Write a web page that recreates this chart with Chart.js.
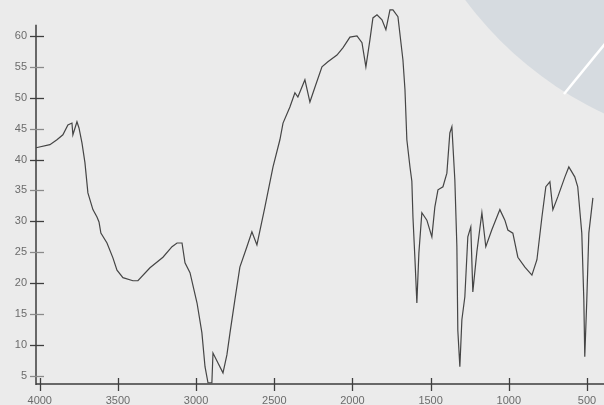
<!DOCTYPE html>
<html>
<head>
<meta charset="utf-8">
<script src="https://cdn.jsdelivr.net/npm/chart.js@4/dist/chart.umd.min.js"></script>
<style>
  html, body { margin: 0; padding: 0; background: #ebebeb; }
  #wrap { width: 604px; height: 405px; }
</style>
</head>
<body>
<div id="wrap"><canvas id="spectrum" width="604" height="405"></canvas></div>
<script>
// IR transmission spectrum: wavenumber (cm-1) vs transmittance (%)
const wavenumbers = [
  4024, 3935, 3890, 3852, 3820, 3794, 3788, 3762, 3749, 3730,
  3711, 3692, 3660, 3634, 3621, 3609, 3570, 3532, 3506, 3468,
  3404, 3372, 3295, 3212, 3154, 3122, 3090, 3071, 3039, 2994,
  2963, 2943, 2924, 2899, 2892, 2860, 2828, 2803, 2783, 2752,
  2720, 2675, 2643, 2611, 2560, 2508, 2464, 2444, 2400, 2368,
  2349, 2304, 2272, 2240, 2195, 2157, 2099, 2060, 2016, 1971,
  1939, 1914, 1888, 1869, 1843, 1811, 1786, 1760, 1741, 1709,
  1677, 1664, 1652, 1632, 1620, 1613, 1600, 1588, 1575, 1556,
  1524, 1492, 1473, 1453, 1421, 1396, 1377, 1364, 1345, 1332,
  1326, 1313, 1300, 1281, 1262, 1243, 1230, 1204, 1172, 1147,
  1109, 1057, 1025, 1006, 974, 942, 897, 852, 820, 788,
  763, 737, 718, 686, 641, 616, 578, 559, 533, 520,
  514, 501, 488, 462
];
const transmittance = [
  41.9, 42.4, 43.2, 44.0, 45.6, 45.9, 44.0, 46.1, 45.1, 42.7,
  39.5, 34.6, 31.9, 30.7, 29.9, 28.1, 26.5, 24.1, 22.1, 20.9,
  20.4, 20.4, 22.5, 24.2, 25.9, 26.5, 26.5, 23.3, 21.7, 16.8,
  12.0, 6.5, 3.9, 3.9, 8.7, 7.1, 5.5, 8.4, 12.0, 17.3,
  22.6, 25.9, 28.3, 26.2, 32.3, 38.8, 43.2, 45.9, 48.5, 50.8,
  50.1, 52.9, 49.3, 51.7, 55.0, 55.8, 56.9, 58.1, 59.8, 60.0,
  58.9, 55.0, 59.4, 62.9, 63.4, 62.6, 61.0, 64.2, 64.2, 63.1,
  56.1, 51.3, 43.2, 38.8, 36.5, 30.7, 23.8, 16.8, 24.9, 31.4,
  30.2, 27.5, 32.3, 35.1, 35.6, 37.8, 44.3, 45.3, 36.7, 25.9,
  12.4, 6.5, 14.1, 17.8, 27.5, 29.1, 18.6, 25.1, 31.4, 25.9,
  28.6, 31.9, 30.2, 28.6, 28.1, 24.2, 22.6, 21.3, 23.8, 30.7,
  35.6, 36.4, 31.9, 34.0, 37.2, 38.8, 37.2, 35.6, 28.1, 17.3,
  8.1, 17.3, 28.1, 33.8
];
const xTickValues = [500, 1000, 1500, 2000, 2500, 3000, 3500, 4000];
const yTickValues = [5, 10, 15, 20, 25, 30, 35, 40, 45, 50, 55, 60];

const points = wavenumbers.map((w, i) => ({ x: w, y: transmittance[i] }));

const INK = '#3e3e3e';
const LABEL = '#6b6b6b';

// slide backdrop: plain grey with a pale disc and a white stroke in the corner
const backdrop = {
  id: 'backdrop',
  beforeDraw(chart) {
    const { ctx, width, height } = chart;
    ctx.save();
    ctx.fillStyle = '#ebebeb';
    ctx.fillRect(0, 0, width, height);
    ctx.beginPath();
    ctx.arc(762, -221, 370, 0, Math.PI * 2);
    ctx.fillStyle = '#d6dbe0';
    ctx.fill();
    ctx.beginPath();
    ctx.moveTo(564, 94);
    ctx.lineTo(608, 40);
    ctx.strokeStyle = '#ffffff';
    ctx.lineWidth = 2.5;
    ctx.stroke();
    ctx.restore();
  }
};

// axis lines with tick marks crossing them
const crossAxes = {
  id: 'crossAxes',
  beforeDatasetsDraw(chart) {
    const { ctx } = chart;
    const xs = chart.scales.x, ys = chart.scales.y;
    const x0 = xs.left, y0 = ys.bottom;
    ctx.save();
    ctx.strokeStyle = INK;
    ctx.lineWidth = 1.5;
    ctx.beginPath();
    ctx.moveTo(x0, ys.getPixelForValue(61.8));
    ctx.lineTo(x0, y0 + 1);
    ctx.moveTo(x0, y0);
    ctx.lineTo(xs.right, y0);
    ctx.stroke();
    ctx.lineWidth = 1.3;
    yTickValues.forEach(v => {
      const py = Math.round(ys.getPixelForValue(v)) + 0.5;
      ctx.strokeStyle = (v % 10 === 0) ? INK : '#8a8a8a';
      ctx.beginPath();
      ctx.moveTo(x0 - 6, py);
      ctx.lineTo(x0 + 8, py);
      ctx.stroke();
    });
    ctx.strokeStyle = INK;
    xTickValues.forEach(v => {
      const px = Math.round(xs.getPixelForValue(v)) + 0.5;
      ctx.beginPath();
      ctx.moveTo(px, y0 - 6);
      ctx.lineTo(px, y0 + 7);
      ctx.stroke();
    });
    ctx.restore();
  }
};

new Chart(document.getElementById('spectrum'), {
  type: 'line',
  data: {
    datasets: [{
      data: points,
      borderColor: '#454545',
      borderWidth: 1.2,
      pointRadius: 0,
      tension: 0,
      fill: false
    }]
  },
  options: {
    responsive: false,
    animation: false,
    devicePixelRatio: 1,
    layout: { padding: 0 },
    plugins: { legend: { display: false }, tooltip: { enabled: false } },
    scales: {
      x: {
        type: 'linear',
        reverse: true,
        min: 391,
        max: 4024,
        grid: { display: false, drawTicks: false },
        border: { display: false },
        afterBuildTicks: s => { s.ticks = xTickValues.map(v => ({ value: v })); },
        afterFit: s => { s.height = 21; s.paddingLeft = 0; s.paddingRight = 0; },
        ticks: {
          autoSkip: false,
          maxRotation: 0,
          padding: 10,
          color: LABEL,
          font: { family: 'Liberation Sans', size: 11 },
          callback: v => String(v)
        }
      },
      y: {
        min: 3.7,
        max: 65.8,
        grid: { display: false, drawTicks: false },
        border: { display: false },
        afterBuildTicks: s => { s.ticks = yTickValues.map(v => ({ value: v })); },
        afterFit: s => { s.width = 36; s.paddingTop = 0; s.paddingBottom = 0; },
        ticks: {
          autoSkip: false,
          padding: 9,
          color: LABEL,
          font: { family: 'Liberation Sans', size: 11 },
          callback: v => String(v)
        }
      }
    }
  },
  plugins: [backdrop, crossAxes]
});
</script>
</body>
</html>
